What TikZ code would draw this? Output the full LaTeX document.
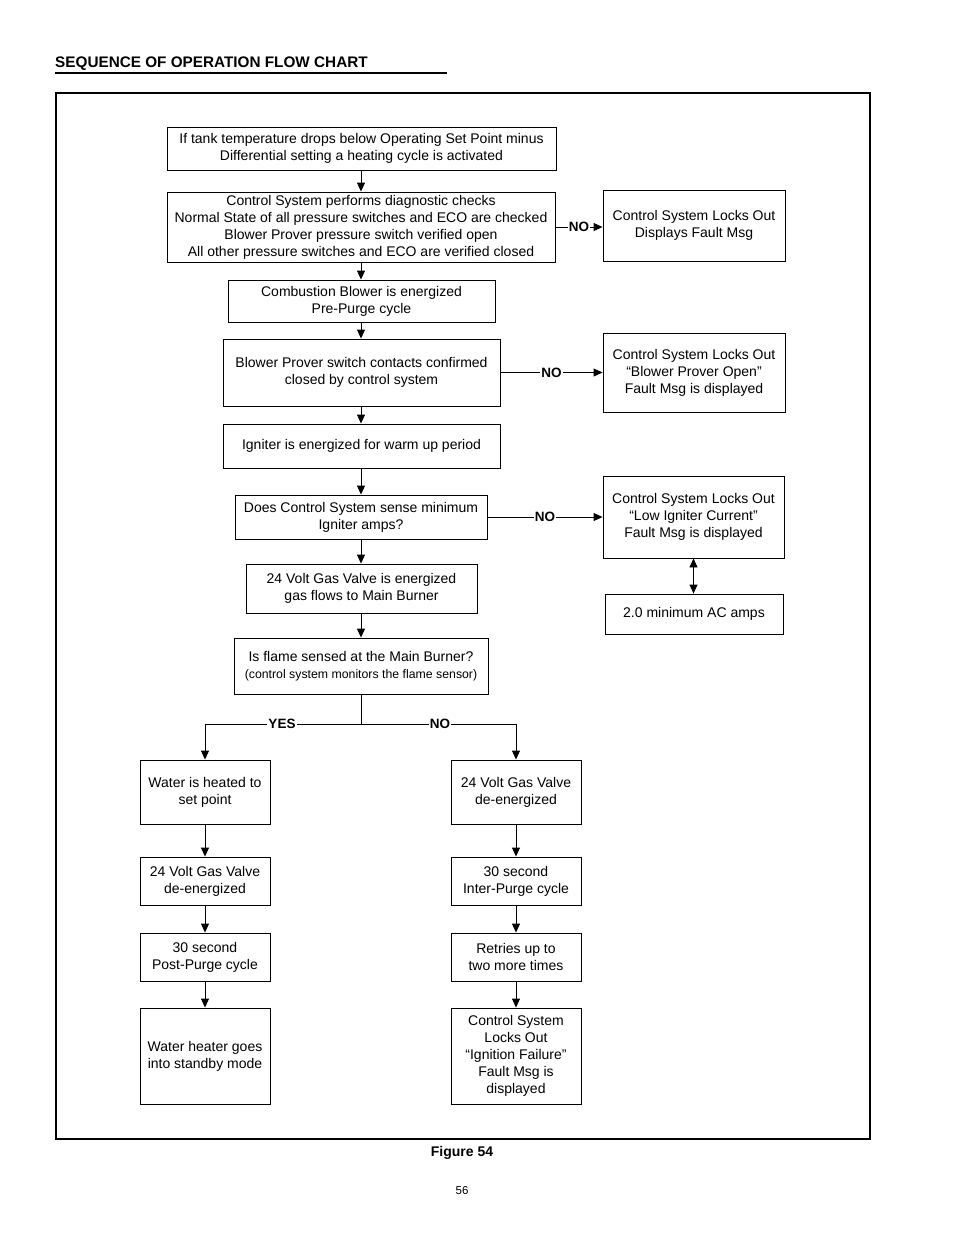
\documentclass[tikz,border=0pt]{standalone}
\usepackage{fontspec}
\setmainfont{Liberation Sans}
\usetikzlibrary{arrows.meta}
\begin{document}
\begin{tikzpicture}[x=1pt,y=-1pt,
  box/.style={draw, line width=0.9pt, rectangle, align=center, inner sep=0pt,
    font=\fontsize{14}{17}\selectfont},
  arr/.style={line width=0.9pt, -{Triangle[length=9pt,width=8pt]}},
  dbl/.style={line width=0.9pt, {Triangle[length=9pt,width=8pt]}-{Triangle[length=9pt,width=8pt]}},
  lnk/.style={line width=0.9pt},
  lbl/.style={fill=white, inner sep=1pt, font=\bfseries\fontsize{13.5}{15}\selectfont}]
\useasboundingbox (0,0) rectangle (954,1235);
% title
\node[anchor=base west, inner sep=0pt, font=\bfseries\fontsize{15.3}{17}\selectfont] (title) at (55,67) {SEQUENCE OF OPERATION FLOW CHART};
\coordinate (ulA) at (55,73);
\coordinate (ulB) at (447,73);
\draw[line width=1.6pt] (ulA) -- (ulB);
% frame
\coordinate (frA) at (56,93);
\coordinate (frB) at (870,1139);
\draw[line width=2pt] (frA) rectangle (frB);

% main column
\node[box, minimum width=389pt, minimum height=43pt] (b1) at (361.5,148.5)
  {If tank temperature drops below Operating Set Point minus\\Differential setting a heating cycle is activated};
\node[box, minimum width=388pt, minimum height=70pt] (b2) at (361,227)
  {Control System performs diagnostic checks\\Normal State of all pressure switches and ECO are checked\\Blower Prover pressure switch verified open\\All other pressure switches and ECO are verified closed};
\node[box, minimum width=182pt, minimum height=71pt] (f1) at (694,225.5)
  {Control System Locks Out\\Displays Fault Msg};
\node[box, minimum width=267pt, minimum height=42pt] (b3) at (361.5,301)
  {Combustion Blower is energized\\Pre-Purge cycle};
\node[box, minimum width=277pt, minimum height=67pt] (b4) at (361.5,372.5)
  {Blower Prover switch contacts confirmed\\closed by control system};
\node[box, minimum width=182pt, minimum height=79pt] (f2) at (694,372.5)
  {Control System Locks Out\\“Blower Prover Open”\\Fault Msg is displayed};
\node[box, minimum width=277pt, minimum height=44pt] (b5) at (361.5,446)
  {Igniter is energized for warm up period};
\node[box, minimum width=252pt, minimum height=44pt] (b6) at (361,517)
  {Does Control System sense minimum\\Igniter amps?};
\node[box, minimum width=181pt, minimum height=82pt] (f3) at (693.5,517)
  {Control System Locks Out\\“Low Igniter Current”\\Fault Msg is displayed};
\node[box, minimum width=178pt, minimum height=40pt] (a1) at (694,614)
  {2.0 minimum AC amps};
\node[box, minimum width=231pt, minimum height=49pt] (b7) at (361.5,588.5)
  {24 Volt Gas Valve is energized\\gas flows to Main Burner};
\node[box, minimum width=254pt, minimum height=56pt] (b8) at (361,666)
  {Is flame sensed at the Main Burner?\\{\fontsize{12.3}{17}\selectfont(control system monitors the flame sensor)}};

% YES column
\node[box, minimum width=130pt, minimum height=64pt] (y1) at (205,792)
  {Water is heated to\\set point};
\node[box, minimum width=130pt, minimum height=48pt] (y2) at (205,881)
  {24 Volt Gas Valve\\de-energized};
\node[box, minimum width=130pt, minimum height=48pt] (y3) at (205,957)
  {30 second\\Post-Purge cycle};
\node[box, minimum width=130pt, minimum height=96pt] (y4) at (205,1056)
  {Water heater goes\\into standby mode};

% NO column
\node[box, minimum width=130pt, minimum height=64pt] (n1) at (516,792)
  {24 Volt Gas Valve\\de-energized};
\node[box, minimum width=130pt, minimum height=48pt] (n2) at (516,881)
  {30 second\\Inter-Purge cycle};
\node[box, minimum width=130pt, minimum height=48pt] (n3) at (516,957)
  {Retries up to\\two more times};
\node[box, minimum width=130pt, minimum height=96pt] (n4) at (516,1056)
  {Control System\\Locks Out\\“Ignition Failure”\\Fault Msg is\\displayed};

% main arrows
\draw[arr] (b1.south -| b2.north) -- (b2.north);
\draw[arr] (b2.south) -- (b2.south |- b3.north);
\draw[arr] (b3.south -| b2.south) -- (b2.south |- b4.north);
\draw[arr] (b4.south -| b2.south) -- (b2.south |- b5.north);
\draw[arr] (b5.south -| b2.south) -- (b2.south |- b6.north);
\draw[arr] (b6.south -| b2.south) -- (b2.south |- b7.north);
\draw[arr] (b7.south -| b2.south) -- (b2.south |- b8.north);

% NO branches
\draw[arr] (b2.east) -- (b2.east -| f1.west) node[lbl, pos=0.5] {NO};
\draw[arr] (b4.east) -- (b4.east -| f2.west) node[lbl, pos=0.5] {NO};
\draw[arr] (b6.east) -- (b6.east -| f3.west) node[lbl, pos=0.5] {NO};
\draw[dbl] (f3.south) -- (f3.south |- a1.north);

% split
\coordinate (split) at (361,724);
\draw[lnk] (b8.south) -- (split);
\draw[arr] (split) -| (y1.north);
\draw[arr] (split) -| (n1.north);
\node[lbl] (yes) at (282,724) {YES};
\node[lbl] (no4) at (440,724) {NO};

% column arrows
\draw[arr] (y1.south) -- (y2.north);
\draw[arr] (y2.south) -- (y3.north);
\draw[arr] (y3.south) -- (y4.north);
\draw[arr] (n1.south) -- (n2.north);
\draw[arr] (n2.south) -- (n3.north);
\draw[arr] (n3.south) -- (n4.north);

% captions
\node[font=\bfseries\fontsize{14}{16}\selectfont] (fig) at (462,1153) {Figure 54};
\node[font=\fontsize{11.5}{13}\selectfont] (page) at (462,1191) {56};
\end{tikzpicture}
\end{document}
